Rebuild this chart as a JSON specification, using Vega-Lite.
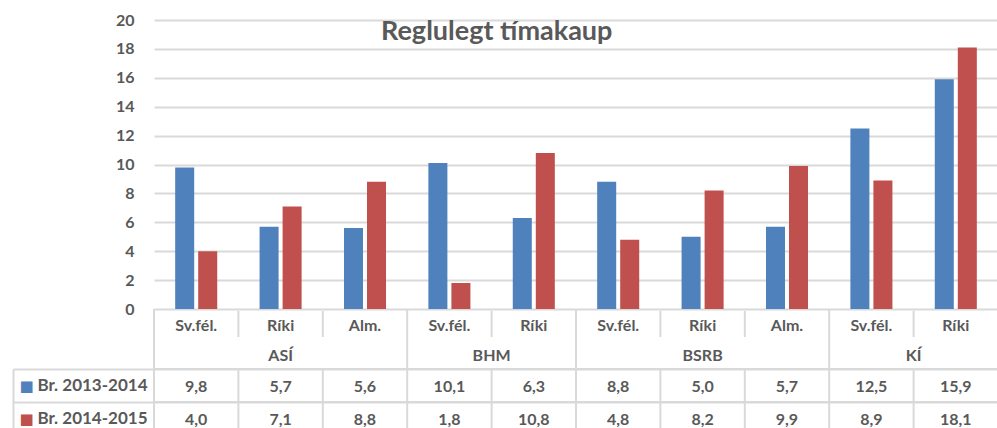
{
  "$schema": "https://vega.github.io/schema/vega-lite/v6.json",
  "padding": {"left": 12, "top": 12, "right": 0, "bottom": 0},
  "bounds": "flush",
  "spacing": 0,
  "config": {
    "view": {"stroke": null},
    "font": "Lato",
    "locale": {"number": {"decimal": ",", "thousands": ".", "grouping": [3], "currency": ["", " kr."]}},
    "text": {"font": "Lato", "fontWeight": "bold", "fontSize": 16, "color": "#595959"}
  },
  "datasets": {
    "d": [
      {"col": 1, "group": "ASÍ", "sub": "Sv.fél.", "series": "Br. 2013-2014", "value": 9.8},
      {"col": 1, "group": "ASÍ", "sub": "Sv.fél.", "series": "Br. 2014-2015", "value": 4.0},
      {"col": 2, "group": "ASÍ", "sub": "Ríki", "series": "Br. 2013-2014", "value": 5.7},
      {"col": 2, "group": "ASÍ", "sub": "Ríki", "series": "Br. 2014-2015", "value": 7.1},
      {"col": 3, "group": "ASÍ", "sub": "Alm.", "series": "Br. 2013-2014", "value": 5.6},
      {"col": 3, "group": "ASÍ", "sub": "Alm.", "series": "Br. 2014-2015", "value": 8.8},
      {"col": 4, "group": "BHM", "sub": "Sv.fél.", "series": "Br. 2013-2014", "value": 10.1},
      {"col": 4, "group": "BHM", "sub": "Sv.fél.", "series": "Br. 2014-2015", "value": 1.8},
      {"col": 5, "group": "BHM", "sub": "Ríki", "series": "Br. 2013-2014", "value": 6.3},
      {"col": 5, "group": "BHM", "sub": "Ríki", "series": "Br. 2014-2015", "value": 10.8},
      {"col": 6, "group": "BSRB", "sub": "Sv.fél.", "series": "Br. 2013-2014", "value": 8.8},
      {"col": 6, "group": "BSRB", "sub": "Sv.fél.", "series": "Br. 2014-2015", "value": 4.8},
      {"col": 7, "group": "BSRB", "sub": "Ríki", "series": "Br. 2013-2014", "value": 5.0},
      {"col": 7, "group": "BSRB", "sub": "Ríki", "series": "Br. 2014-2015", "value": 8.2},
      {"col": 8, "group": "BSRB", "sub": "Alm.", "series": "Br. 2013-2014", "value": 5.7},
      {"col": 8, "group": "BSRB", "sub": "Alm.", "series": "Br. 2014-2015", "value": 9.9},
      {"col": 9, "group": "KÍ", "sub": "Sv.fél.", "series": "Br. 2013-2014", "value": 12.5},
      {"col": 9, "group": "KÍ", "sub": "Sv.fél.", "series": "Br. 2014-2015", "value": 8.9},
      {"col": 10, "group": "KÍ", "sub": "Ríki", "series": "Br. 2013-2014", "value": 15.9},
      {"col": 10, "group": "KÍ", "sub": "Ríki", "series": "Br. 2014-2015", "value": 18.1}
    ]
  },
  "vconcat": [
    {
      "width": 844,
      "height": 289,
      "data": {"name": "d"},
      "title": {"text": "Reglulegt tímakaup", "frame": "group", "anchor": "start", "dx": 227, "offset": -34, "baseline": "top", "font": "Lato", "fontSize": 27, "fontWeight": "bold", "color": "#595959"},
      "mark": {"type": "bar"},
      "encoding": {
        "x": {"field": "col", "type": "ordinal", "scale": {"domain": [1,2,3,4,5,6,7,8,9,10], "paddingInner": 0, "paddingOuter": 0}, "axis": null},
        "xOffset": {"field": "series", "type": "nominal", "scale": {"paddingInner": 0.174, "paddingOuter": 0.92}},
        "y": {"field": "value", "type": "quantitative", "scale": {"domain": [0, 20], "nice": false},
          "axis": {"values": [0,2,4,6,8,10,12,14,16,18,20], "title": null, "grid": true, "gridColor": "#d9d9d9", "gridWidth": 2, "domain": false, "ticks": false, "labelPadding": 20, "labelFont": "Lato", "labelFontWeight": "bold", "labelFontSize": 16, "labelColor": "#595959"}},
        "color": {"field": "series", "type": "nominal", "scale": {"domain": ["Br. 2013-2014", "Br. 2014-2015"], "range": ["#4f81bd", "#c0504d"]}, "legend": null}
      }
    },
    {
      "width": 844,
      "height": 60,
      "data": {"name": "d"},
      "resolve": {"scale": {"x": "independent"}},
      "layer": [
        {
          "transform": [{"filter": "datum.series === 'Br. 2013-2014'"}],
          "mark": {"type": "text", "align": "center", "baseline": "middle", "dy": 2},
          "encoding": {
            "x": {"field": "col", "type": "ordinal", "scale": {"domain": [1,2,3,4,5,6,7,8,9,10], "paddingInner": 0, "paddingOuter": 0}, "axis": null},
            "y": {"datum": "sub", "type": "nominal", "scale": {"domain": ["sub", "grp"], "paddingInner": 0, "paddingOuter": 0}, "axis": null},
            "text": {"field": "sub", "type": "nominal"}
          }
        },
        {
          "transform": [{"aggregate": [{"op": "mean", "field": "col", "as": "mid"}], "groupby": ["group"]}],
          "mark": {"type": "text", "align": "center", "baseline": "middle", "dy": 2},
          "encoding": {
            "x": {"field": "mid", "type": "quantitative", "scale": {"domain": [0.5, 10.5], "nice": false, "zero": false}, "axis": null},
            "y": {"datum": "grp", "type": "nominal", "axis": null},
            "text": {"field": "group", "type": "nominal"}
          }
        },
        {
          "transform": [
            {"filter": "datum.series === 'Br. 2013-2014'"},
            {"window": [{"op": "row_number", "as": "rn"}], "groupby": ["group"], "sort": [{"field": "col"}]},
            {"filter": "datum.rn === 1"}
          ],
          "mark": {"type": "rule", "color": "#d9d9d9", "strokeWidth": 2},
          "encoding": {
            "x": {"field": "col", "type": "ordinal", "bandPosition": 0, "scale": {"domain": [1,2,3,4,5,6,7,8,9,10], "paddingInner": 0, "paddingOuter": 0}, "axis": null}
          }
        },
        {
          "transform": [
            {"filter": "datum.series === 'Br. 2013-2014'"},
            {"window": [{"op": "row_number", "as": "rn"}], "groupby": ["group"], "sort": [{"field": "col"}]},
            {"filter": "datum.rn > 1"}
          ],
          "mark": {"type": "rule", "color": "#d9d9d9", "strokeWidth": 2, "yOffset": -13, "y2Offset": 13},
          "encoding": {
            "x": {"field": "col", "type": "ordinal", "bandPosition": 0, "scale": {"domain": [1,2,3,4,5,6,7,8,9,10], "paddingInner": 0, "paddingOuter": 0}, "axis": null},
            "y": {"datum": "sub", "type": "nominal", "axis": null},
            "y2": {"datum": "sub"}
          }
        }
      ]
    },
    {
      "width": 844,
      "height": 66,
      "data": {"name": "d"},
      "resolve": {"axis": {"y": "independent"}},
      "layer": [
        {
          "transform": [{"filter": "datum.series === 'Br. 2013-2014'"}],
          "mark": {"type": "text", "align": "center", "baseline": "middle", "dy": 1},
          "encoding": {
            "x": {"field": "col", "type": "ordinal", "scale": {"domain": [1,2,3,4,5,6,7,8,9,10], "paddingInner": 0, "paddingOuter": 0}, "axis": null},
            "y": {"field": "series", "type": "nominal", "scale": {"domain": ["Br. 2013-2014", "Br. 2014-2015"], "paddingInner": 0, "paddingOuter": 0},
              "axis": {"orient": "left", "title": null, "domain": false, "ticks": false, "labelPadding": 7, "labelFont": "Lato", "labelFontWeight": "bold", "labelFontSize": 17, "labelColor": "#595959", "grid": true, "gridColor": "#d9d9d9", "gridWidth": 2, "tickBand": "extent"}},
            "text": {"field": "value", "type": "quantitative", "format": ".1f"}
          }
        },
        {
          "transform": [{"filter": "datum.series === 'Br. 2014-2015'"}],
          "mark": {"type": "text", "align": "center", "baseline": "middle", "dy": 1},
          "encoding": {
            "x": {"field": "col", "type": "ordinal", "scale": {"domain": [1,2,3,4,5,6,7,8,9,10], "paddingInner": 0, "paddingOuter": 0}, "axis": null},
            "y": {"field": "series", "type": "nominal", "scale": {"domain": ["Br. 2013-2014", "Br. 2014-2015"], "paddingInner": 0, "paddingOuter": 0},
              "axis": {"orient": "left", "offset": 141, "title": null, "domain": true, "domainColor": "#d9d9d9", "domainWidth": 2, "ticks": true, "tickSize": -141, "tickColor": "#d9d9d9", "tickWidth": 2, "tickBand": "extent", "grid": false, "labels": false}},
            "text": {"field": "value", "type": "quantitative", "format": ".1f"}
          }
        },
        {
          "transform": [{"filter": "datum.col === 1"}],
          "mark": {"type": "rule", "color": "#d9d9d9", "strokeWidth": 2},
          "encoding": {
            "y": {"field": "series", "type": "nominal", "bandPosition": 0, "scale": {"domain": ["Br. 2013-2014", "Br. 2014-2015"], "paddingInner": 0, "paddingOuter": 0},
              "axis": {"orient": "left", "offset": 141, "title": null, "domain": false, "ticks": false, "grid": false,
                "labelExpr": "'■'", "labelAlign": "left", "labelPadding": -6, "labelFont": "DejaVu Sans", "labelFontSize": 15,
                "labelColor": {"condition": {"test": "datum.value === 'Br. 2013-2014'", "value": "#4f81bd"}, "value": "#c0504d"}}}
          }
        },
        {
          "transform": [{"filter": "datum.series === 'Br. 2013-2014'"}],
          "mark": {"type": "rule", "color": "#d9d9d9", "strokeWidth": 2},
          "encoding": {
            "x": {"field": "col", "type": "ordinal", "bandPosition": 0, "scale": {"domain": [1,2,3,4,5,6,7,8,9,10], "paddingInner": 0, "paddingOuter": 0}, "axis": null}
          }
        }
      ]
    }
  ]
}
